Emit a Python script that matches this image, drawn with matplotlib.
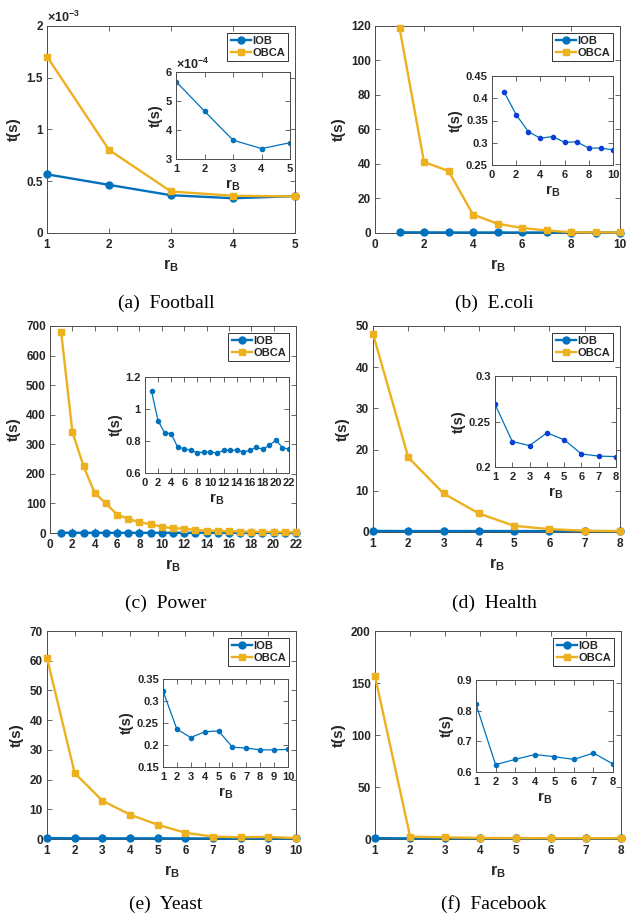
import math
import matplotlib
matplotlib.use('Agg')
import matplotlib.pyplot as plt
from matplotlib.ticker import FuncFormatter

plt.rcParams['font.family'] = ['Liberation Sans', 'DejaVu Sans']
plt.rcParams['font.weight'] = 'bold'
plt.rcParams['mathtext.fontset'] = 'custom'
plt.rcParams['mathtext.rm'] = 'Liberation Sans'
plt.rcParams['mathtext.bf'] = 'Liberation Sans:bold'
plt.rcParams['mathtext.it'] = 'Liberation Sans:italic'

# ---- data ----
football_rb = [1, 2, 3, 4, 5]
football_iob = [5.67e-4, 4.65e-4, 3.65e-4, 3.36e-4, 3.56e-4]
football_obca = [1.705e-3, 8.03e-4, 4.01e-4, 3.60e-4, 3.53e-4]

ecoli_rb = [1, 2, 3, 4, 5, 6, 7, 8, 9, 10]
ecoli_iob = [0.414, 0.363, 0.325, 0.310, 0.314, 0.301, 0.302, 0.288, 0.288, 0.284]
ecoli_obca = [119.0, 41.2, 35.9, 10.7, 5.4, 2.9, 1.5, 0.4, 0.35, 0.3]

power_rb = list(range(1, 23))
power_iob = [1.111, 0.925, 0.852, 0.846, 0.761, 0.753, 0.741, 0.728, 0.730, 0.732, 0.724,
             0.741, 0.741, 0.743, 0.732, 0.741, 0.761, 0.748, 0.774, 0.805, 0.759, 0.748]
power_obca = [679, 342, 226, 135, 100, 62, 48, 36, 30, 21, 16,
              15, 10, 8, 7, 6, 5, 4.5, 4, 3.5, 3, 3]

health_rb = [1, 2, 3, 4, 5, 6, 7, 8]
health_iob = [0.269, 0.228, 0.2235, 0.2375, 0.230, 0.2143, 0.212, 0.2114]
health_obca = [48.1, 18.1, 9.35, 4.5, 1.5, 0.7, 0.3, 0.2]

yeast_rb = [1, 2, 3, 4, 5, 6, 7, 8, 9, 10]
yeast_iob = [0.323, 0.236, 0.217, 0.230, 0.232, 0.195, 0.193, 0.189, 0.189, 0.190]
yeast_obca = [60.9, 22.2, 12.9, 8.2, 4.8, 2.1, 0.8, 0.6, 0.7, 0.3]

facebook_rb = [1, 2, 3, 4, 5, 6, 7, 8]
facebook_iob = [0.821, 0.624, 0.641, 0.657, 0.650, 0.641, 0.662, 0.626]
facebook_obca = [156.7, 2.2, 1.6, 1.0, 0.9, 0.8, 0.8, 0.8]

# ticks
football_xticks = [1, 2, 3, 4, 5]
football_yticks = [0, 0.5e-3, 1e-3, 1.5e-3, 2e-3]
football_inset_yticks = [3e-4, 4e-4, 5e-4, 6e-4]
ecoli_xticks = [0, 2, 4, 6, 8, 10]
ecoli_yticks = [0, 20, 40, 60, 80, 100, 120]
ecoli_inset_yticks = [0.25, 0.3, 0.35, 0.4, 0.45]
power_xticks = list(range(0, 23, 2))
power_yticks = [0, 100, 200, 300, 400, 500, 600, 700]
power_inset_yticks = [0.6, 0.8, 1.0, 1.2]
health_xticks = [1, 2, 3, 4, 5, 6, 7, 8]
health_yticks = [0, 10, 20, 30, 40, 50]
health_inset_yticks = [0.2, 0.25, 0.3]
yeast_xticks = [1, 2, 3, 4, 5, 6, 7, 8, 9, 10]
yeast_yticks = [0, 10, 20, 30, 40, 50, 60, 70]
yeast_inset_yticks = [0.15, 0.2, 0.25, 0.3, 0.35]
facebook_xticks = [1, 2, 3, 4, 5, 6, 7, 8]
facebook_yticks = [0, 50, 100, 150, 200]
facebook_inset_yticks = [0.6, 0.7, 0.8, 0.9]

captions = ['(a)  Football', '(b)  E.coli', '(c)  Power', '(d)  Health', '(e)  Yeast', '(f)  Facebook']

BLUE = '#0072BD'
YELLOW = '#EDB120'
DOTBLUE = '#0a3fd6'
SPINE = '#4d4d4d'
TXT = '#262626'

W, H = 628, 914
fig = plt.figure(figsize=(W / 100, H / 100), dpi=100)


def px(x0, y0, x1, y1):
    return [x0 / W, 1 - y1 / H, (x1 - x0) / W, (y1 - y0) / H]


def style(ax, fs, xpad):
    for s in ax.spines.values():
        s.set_color(SPINE)
        s.set_linewidth(0.7)
    ax.tick_params(direction='in', top=True, right=True, length=3.5, width=0.6,
                   color=SPINE, labelcolor=TXT, labelsize=fs, pad=3)
    ax.tick_params(axis='x', pad=xpad)
    for lab in ax.get_xticklabels() + ax.get_yticklabels():
        lab.set_fontweight('bold')


def gfmt(scale):
    return FuncFormatter(lambda v, _: f'{v / scale:g}')


def offset_label(ax, scale):
    exp = int(round(math.log10(scale)))
    ax.text(0.0, 1.005, r'$\times10^{%d}$' % exp, transform=ax.transAxes,
            fontsize=9, color=TXT, ha='left', va='bottom')


def panel(mbox, ibox, rb, iob, obca, xlim, xticks, ylim, yticks,
          ixlim, ixticks, iylim, iyticks, yscale=1.0, iyscale=1.0, dot=BLUE):
    ax = fig.add_axes(px(*mbox))
    ax.plot(rb, iob, '-o', color=BLUE, lw=1.7, ms=5, label='IOB', clip_on=False, zorder=3)
    ax.plot(rb, obca, '-s', color=YELLOW, lw=1.7, ms=4, label='OBCA', clip_on=False, zorder=4)
    ax.set_xlim(*xlim)
    ax.set_ylim(*ylim)
    ax.set_xticks(xticks)
    ax.set_yticks(yticks)
    ax.yaxis.set_major_formatter(gfmt(yscale))
    ax.xaxis.set_major_formatter(gfmt(1))
    style(ax, 8.5, 4.5)
    ax.set_ylabel('t(s)', fontsize=11, fontweight='bold', color=TXT, labelpad=4)
    ax.set_xlabel(r'$\mathbf{r_B}$', fontsize=11.5, color=TXT, labelpad=4)
    if yscale != 1.0:
        offset_label(ax, yscale)
    leg = ax.legend(loc='upper right', prop={'size': 8, 'weight': 'bold'}, fancybox=False,
                    framealpha=1, edgecolor='#333333', handlelength=1.8, handletextpad=0.15,
                    borderpad=0.3, labelspacing=0.15, borderaxespad=0.6)
    leg.get_frame().set_linewidth(0.7)
    for t in leg.get_texts():
        t.set_color(TXT)

    ins = fig.add_axes(px(*ibox))
    ins.plot(rb, iob, '-', color=BLUE, lw=0.9)
    ins.plot(rb, iob, '.', color=dot, ms=6, lw=0)
    ins.set_xlim(*ixlim)
    ins.set_ylim(*iylim)
    ins.set_xticks(ixticks)
    ins.set_yticks(iyticks)
    ins.yaxis.set_major_formatter(gfmt(iyscale))
    ins.xaxis.set_major_formatter(gfmt(1))
    style(ins, 8, 3.5)
    ins.set_ylabel('t(s)', fontsize=10.5, fontweight='bold', color=TXT, labelpad=2)
    ins.set_xlabel(r'$\mathbf{r_B}$', fontsize=11, color=TXT, labelpad=3)
    if iyscale != 1.0:
        offset_label(ins, iyscale)
    return ax


panel((47, 26, 295, 233), (176, 72, 290, 159), football_rb, football_iob, football_obca,
      (1, 5), football_xticks, (0, 2e-3), football_yticks,
      (1, 5), football_xticks, (3e-4, 6e-4), football_inset_yticks,
      yscale=1e-3, iyscale=1e-4)
panel((375, 26, 620, 233), (492, 76, 613, 165), ecoli_rb, ecoli_iob, ecoli_obca,
      (0, 10), ecoli_xticks, (0, 120), ecoli_yticks,
      (0, 10), ecoli_xticks, (0.25, 0.45), ecoli_inset_yticks, dot=DOTBLUE)
panel((50, 326, 296, 533), (145, 377, 289, 473), power_rb, power_iob, power_obca,
      (0, 22), power_xticks, (0, 700), power_yticks,
      (0, 22), power_xticks, (0.6, 1.2), power_inset_yticks)
panel((373, 326, 620, 532), (495, 376, 616, 467), health_rb, health_iob, health_obca,
      (1, 8), health_xticks, (0, 50), health_yticks,
      (1, 8), health_xticks, (0.2, 0.3), health_inset_yticks, dot=DOTBLUE)
panel((47, 631, 296, 839), (163, 679, 288, 767), yeast_rb, yeast_iob, yeast_obca,
      (1, 10), yeast_xticks, (0, 70), yeast_yticks,
      (1, 10), yeast_xticks, (0.15, 0.35), yeast_inset_yticks)
panel((375, 631, 621, 839), (476, 680, 613, 772), facebook_rb, facebook_iob, facebook_obca,
      (1, 8), facebook_xticks, (0, 200), facebook_yticks,
      (1, 8), facebook_xticks, (0.6, 0.9), facebook_inset_yticks)

cap_pos = [(166, 303), (494, 303), (166, 603), (494, 603), (166, 904), (494, 904)]
for text, (cx, cy) in zip(captions, cap_pos):
    fig.text(cx / W, 1 - cy / H, text, ha='center', va='center',
             family=['Liberation Serif', 'DejaVu Serif'], fontsize=14, fontweight='normal', color='black')

fig.savefig('out.png', dpi=100)
